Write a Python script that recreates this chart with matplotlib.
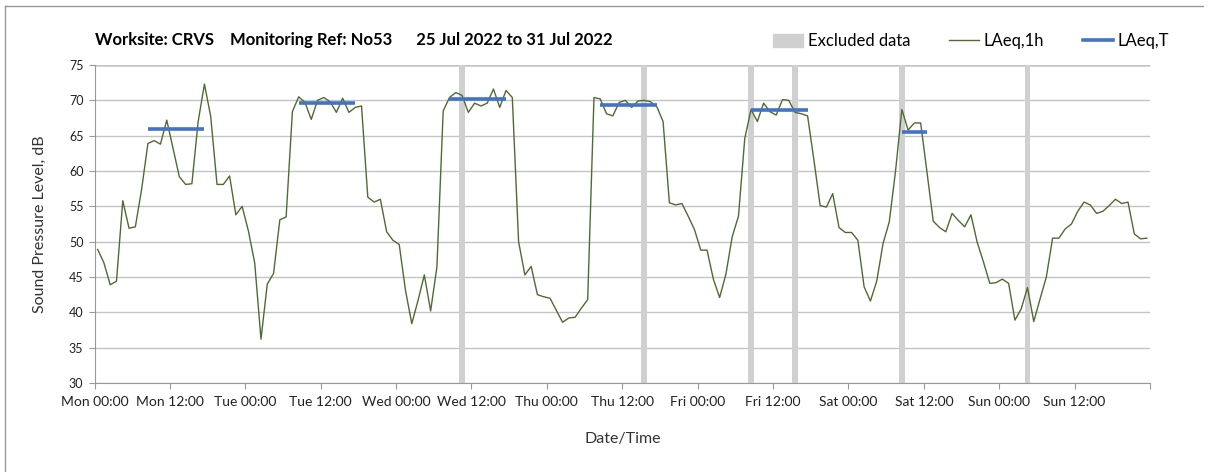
import numpy as np
import matplotlib.pyplot as plt
from matplotlib.lines import Line2D
from matplotlib.patches import Patch

# hourly LAeq,1h values, Mon 00:00 .. Sun 23:00
laeq_1h = [
    48.9, 47.0, 43.9, 44.4, 55.8, 51.9, 52.1, 57.4, 63.9, 64.3, 63.8, 67.2,
    63.2, 59.2, 58.1, 58.2, 67.0, 72.3, 67.7, 58.1, 58.1, 59.3, 53.8, 55.0,
    51.5, 47.0, 36.2, 44.0, 45.5, 53.1, 53.5, 68.4, 70.5, 69.7, 67.3, 70.0,
    70.4, 69.8, 68.3, 70.3, 68.3, 69.0, 69.2, 56.3, 55.6, 56.0, 51.4, 50.2,
    49.6, 43.1, 38.4, 41.7, 45.3, 40.2, 46.4, 68.5, 70.4, 71.1, 70.7, 68.3,
    69.6, 69.2, 69.6, 71.6, 69.0, 71.4, 70.4, 50.0, 45.3, 46.5, 42.5, 42.2,
    42.0, 40.3, 38.6, 39.2, 39.3, 40.6, 41.8, 70.4, 70.2, 68.1, 67.8, 69.7,
    70.0, 69.0, 69.9, 70.0, 69.8, 69.1, 67.0, 55.5, 55.2, 55.4, 53.6, 51.7,
    48.8, 48.8, 44.7, 42.1, 45.4, 50.7, 53.6, 64.6, 68.7, 67.0, 69.6, 68.4,
    67.9, 70.1, 70.0, 68.3, 68.1, 67.8, 61.6, 55.1, 54.9, 56.8, 52.0, 51.3,
    51.3, 50.2, 43.6, 41.6, 44.4, 49.7, 52.8, 60.0, 68.7, 65.8, 66.8, 66.8,
    59.9, 52.9, 52.0, 51.4, 54.0, 53.0, 52.1, 53.8, 49.9, 47.1, 44.1, 44.2,
    44.7, 44.1, 38.9, 40.5, 43.5, 38.7, 41.9, 45.0, 50.5, 50.5, 51.8, 52.5,
    54.3, 55.6, 55.2, 54.0, 54.3, 55.1, 56.0, 55.4, 55.6, 51.1, 50.4, 50.5,
]

# excluded hours (hour index from Mon 00:00)
excluded_hours = [58, 87, 104, 111, 128, 148]

# LAeq,T periods: start hour, end hour, level
period_start = [8.5, 32.5, 56.5, 80.5, 104.5, 128.5]
period_end = [17.5, 41.5, 65.5, 89.5, 113.5, 132.5]
period_level = [65.9, 69.6, 70.2, 69.4, 68.7, 65.5]

days = ["Mon", "Tue", "Wed", "Thu", "Fri", "Sat", "Sun"]
tick_labels = []
for d in days:
    tick_labels += [d + " 00:00", d + " 12:00"]
tick_labels.append("")

plt.rcParams['font.family'] = ['Lato', 'DejaVu Sans']

fig = plt.figure(figsize=(12.08, 4.72), dpi=100)
ax = fig.add_axes([94.5 / 1208, 1 - 383 / 472, (1150 - 94.5) / 1208, (383 - 65) / 472])

hours = np.arange(len(laeq_1h)) + 0.5

for h in excluded_hours:
    ax.bar(h + 0.5, 75, width=0.95, bottom=0, color='#d0d0d0', zorder=1)

ax.plot(hours, laeq_1h, color='#4f6b32', lw=1.0, zorder=3)

for s, e, v in zip(period_start, period_end, period_level):
    ax.plot([s, e], [v, v], color='#4472c4', lw=2.6, solid_capstyle='butt', zorder=4)

ax.set_xlim(0, 168)
ax.set_ylim(30, 75)
ax.set_xticks(np.arange(0, 169, 12))
ax.set_xticklabels(tick_labels, fontsize=10, color='#222222')
ax.set_xticks(np.arange(0, 169, 24), minor=True)
ax.set_yticks(np.arange(30, 76, 5))
ax.set_yticklabels([str(v) for v in range(30, 76, 5)], fontsize=9, color='#222222')

ax.grid(axis='y', color='#c4c4c4', lw=1.0, zorder=0)
ax.grid(axis='x', which='minor', color='#dedede', lw=1.0, zorder=0)
ax.set_axisbelow(True)
ax.tick_params(axis='x', which='major', length=4, color='#999999', direction='out', pad=5)
ax.tick_params(axis='x', which='minor', length=0)
ax.tick_params(axis='y', length=4, color='#999999', direction='out', pad=4)

for side in ['top', 'right']:
    ax.spines[side].set_visible(False)
ax.axhline(75, color='#d4d4d4', lw=2.0, zorder=0)
ax.spines['left'].set_color('#999999')
ax.spines['bottom'].set_color('#999999')

ax.set_ylabel('Sound Pressure Level, dB', fontsize=11.5, color='#333333', labelpad=16)
ax.set_xlabel('Date/Time', fontsize=11.5, color='#333333', labelpad=18)

fig.text(95 / 1208, 1 - 40 / 472, 'Worksite: CRVS    Monitoring Ref: No53      25 Jul 2022 to 31 Jul 2022',
         fontsize=12, fontweight='bold', va='center', ha='left')

handles = [Patch(color='#d0d0d0'),
           Line2D([], [], color='#4f6b32', lw=1.0),
           Line2D([], [], color='#4472c4', lw=2.6)]
fig.legend(handles, ['Excluded data', 'LAeq,1h', 'LAeq,T'], ncol=3, frameon=False,
           loc='center right', bbox_to_anchor=(1184 / 1208, 1 - 41 / 472),
           fontsize=12, handlelength=1.8, handleheight=0.8, handletextpad=0.3,
           columnspacing=2.3)

# chart frame
fig.add_artist(Line2D([5 / 1208, 1203 / 1208], [1 - 6 / 472, 1 - 6 / 472], color='#999999', lw=1))
fig.add_artist(Line2D([5 / 1208, 5 / 1208], [0, 1 - 6 / 472], color='#999999', lw=1))

fig.savefig('out.png', dpi=100)
